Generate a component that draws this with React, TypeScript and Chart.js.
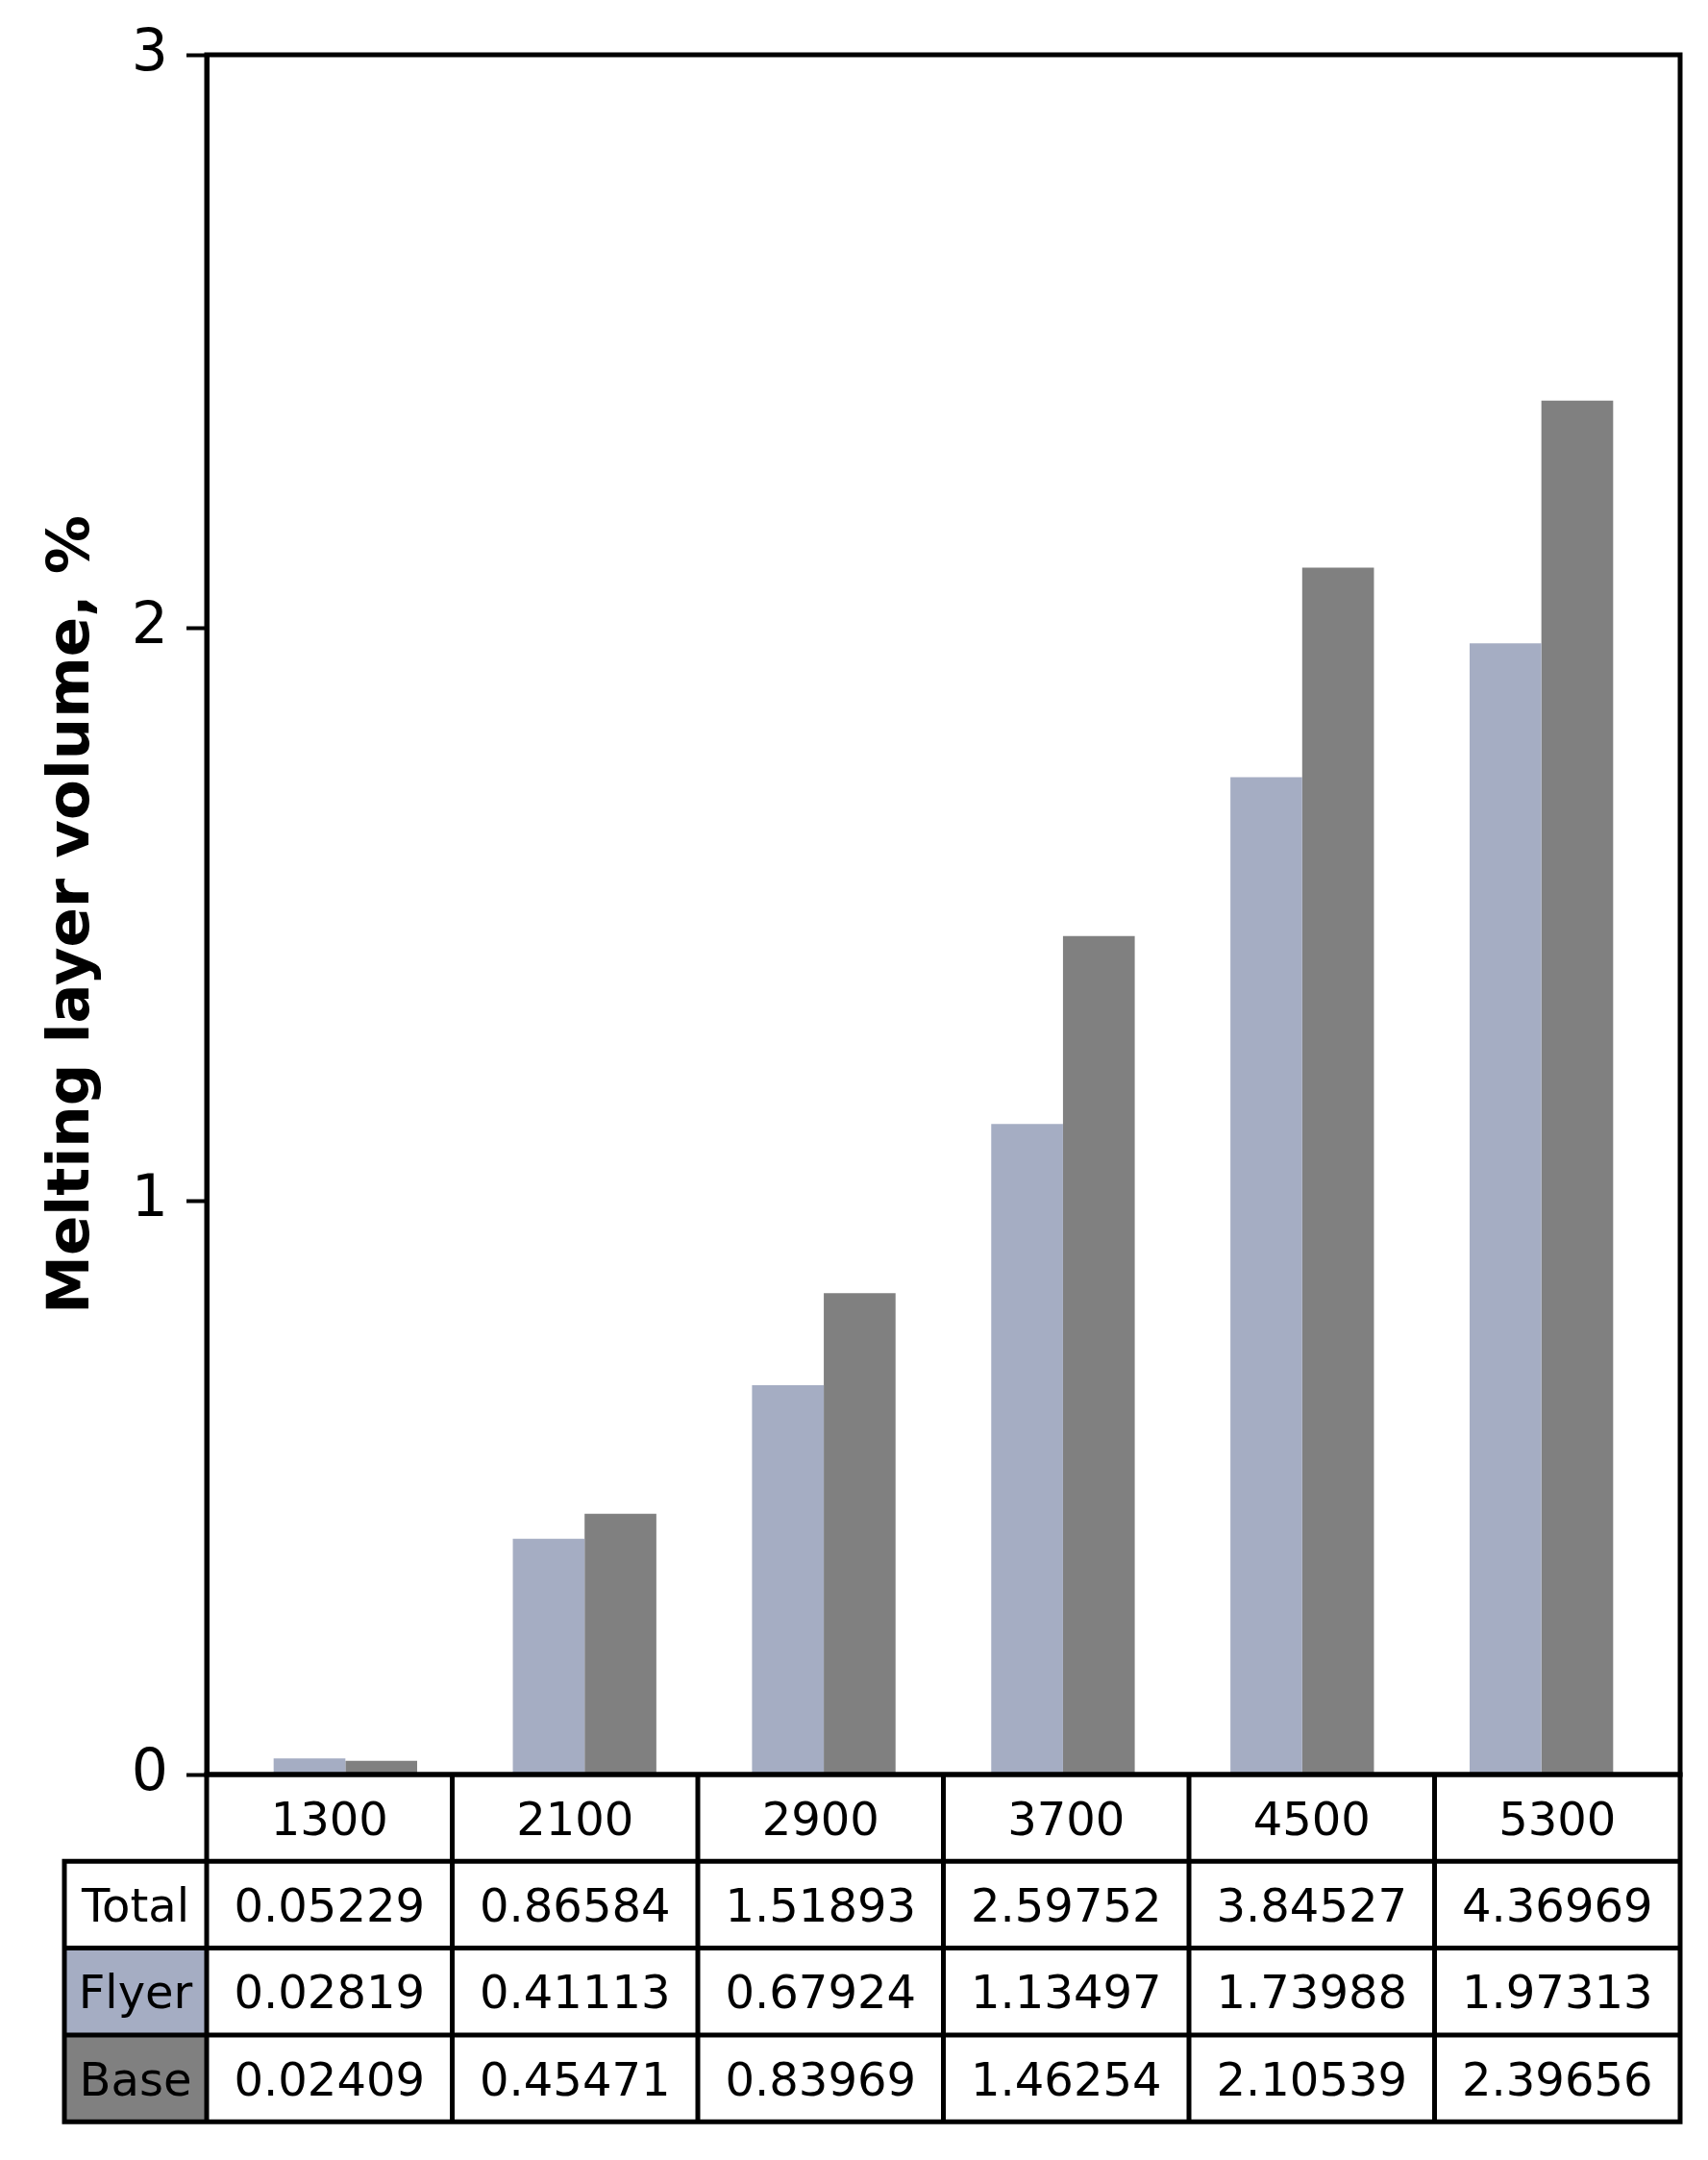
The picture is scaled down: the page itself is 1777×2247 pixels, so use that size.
import React, { useEffect, useRef } from "react";
import { Chart, registerables } from "chart.js";

Chart.register(...registerables);

// ---- data ----
const categories = ["1300", "2100", "2900", "3700", "4500", "5300"];
const totalValues = [0.05229, 0.86584, 1.51893, 2.59752, 3.84527, 4.36969];
const flyerValues = [0.02819, 0.41113, 0.67924, 1.13497, 1.73988, 1.97313];
const baseValues = [0.02409, 0.45471, 0.83969, 1.46254, 2.10539, 2.39656];
const yTickValues = [0, 1, 2, 3];
const rowLabels = ["Total", "Flyer", "Base"];
const yTitle = "Melting layer volume, %";

const FLYER_COLOR = "#a5adc3";
const BASE_COLOR = "#808080";
const FONT = "'DejaVu Sans', 'Liberation Sans', sans-serif";

const tablePlugin = {
  id: "tableAndFrame",
  afterDraw(chart: any) {
    const ctx = chart.ctx as CanvasRenderingContext2D;
    const { left, right, top, bottom } = chart.chartArea;
    const nCols = categories.length;
    const colW = (right - left) / nCols;
    const rowH = 90.3;
    const labelW = 148;
    const rows = [totalValues, flyerValues, baseValues];
    const labelFill = ["#ffffff", FLYER_COLOR, BASE_COLOR];
    const fs = 48;

    ctx.save();
    for (let r = 0; r < rows.length; r++) {
      ctx.fillStyle = labelFill[r];
      ctx.fillRect(left - labelW, bottom + rowH * (r + 1), labelW, rowH);
    }
    ctx.strokeStyle = "#000";
    ctx.lineWidth = 5;
    ctx.lineCap = "square";
    ctx.strokeRect(left, top, right - left, bottom - top);
    ctx.beginPath();
    for (let r = 0; r <= rows.length + 1; r++) {
      const y = bottom + rowH * r;
      ctx.moveTo(r >= 1 ? left - labelW : left, y);
      ctx.lineTo(right, y);
    }
    for (let c = 0; c <= nCols; c++) {
      const x = left + c * colW;
      ctx.moveTo(x, bottom);
      ctx.lineTo(x, bottom + rowH * (rows.length + 1));
    }
    ctx.moveTo(left - labelW, bottom + rowH);
    ctx.lineTo(left - labelW, bottom + rowH * (rows.length + 1));
    ctx.stroke();

    ctx.fillStyle = "#000";
    ctx.font = `${fs}px ${FONT}`;
    ctx.textAlign = "center";
    ctx.textBaseline = "alphabetic";
    const off = fs * 0.364;
    categories.forEach((c, i) => {
      ctx.fillText(c, left + colW * (i + 0.5), bottom + rowH * 0.5 + off);
    });
    rows.forEach((vals, r) => {
      const yMid = bottom + rowH * (r + 1.5) + off;
      ctx.fillText(rowLabels[r], left - labelW / 2, yMid);
      vals.forEach((v, i) => {
        ctx.fillText(v.toFixed(5), left + colW * (i + 0.5), yMid);
      });
    });
    ctx.restore();
  },
};

export default function App() {
  const ref = useRef<HTMLCanvasElement | null>(null);

  useEffect(() => {
    if (!ref.current) return;
    const chart = new Chart(ref.current, {
      type: "bar",
      data: {
        datasets: [
          {
            label: "Flyer",
            data: flyerValues.map((v, i) => ({ x: i, y: v })),
            backgroundColor: FLYER_COLOR,
            borderWidth: 0,
            categoryPercentage: 0.6,
            barPercentage: 1.0,
          },
          {
            label: "Base",
            data: baseValues.map((v, i) => ({ x: i, y: v })),
            backgroundColor: BASE_COLOR,
            borderWidth: 0,
            categoryPercentage: 0.6,
            barPercentage: 1.0,
          },
        ],
      },
      options: {
        responsive: false,
        animation: false,
        devicePixelRatio: 1,
        layout: { padding: { left: 0, top: 57, right: 29, bottom: 401 } },
        plugins: { legend: { display: false }, tooltip: { enabled: false } },
        scales: {
          x: {
            type: "linear",
            min: -0.58,
            max: 5.58,
            offset: false,
            grid: { offset: false },
            display: false,
            afterBuildTicks: (scale: any) => {
              scale.ticks = categories.map((_, i) => ({ value: i }));
            },
          },
          y: {
            min: 0,
            max: 3,
            afterBuildTicks: (scale: any) => {
              scale.ticks = yTickValues.map((v) => ({ value: v }));
            },
            afterFit: (scale: any) => {
              scale.width = 215;
            },
            grid: {
              drawOnChartArea: false,
              drawTicks: true,
              tickLength: 21,
              tickWidth: 4,
              tickColor: "#000",
              color: "#000",
            },
            border: { display: true, color: "#000", width: 5 },
            ticks: {
              color: "#000",
              padding: 19,
              font: { family: FONT, size: 60 },
            },
            title: {
              display: true,
              text: yTitle,
              color: "#000",
              font: { family: FONT, size: 61, weight: "bold" },
              padding: { top: 40, bottom: 0 },
            },
          },
        },
      },
      plugins: [tablePlugin],
    });
    return () => chart.destroy();
  }, []);

  return (
    <div style={{ position: "absolute", left: 0, top: 0, width: 1777, height: 2247, background: "#fff" }}>
      <canvas ref={ref} width={1777} height={2247} style={{ width: 1777, height: 2247, display: "block" }} />
    </div>
  );
}
